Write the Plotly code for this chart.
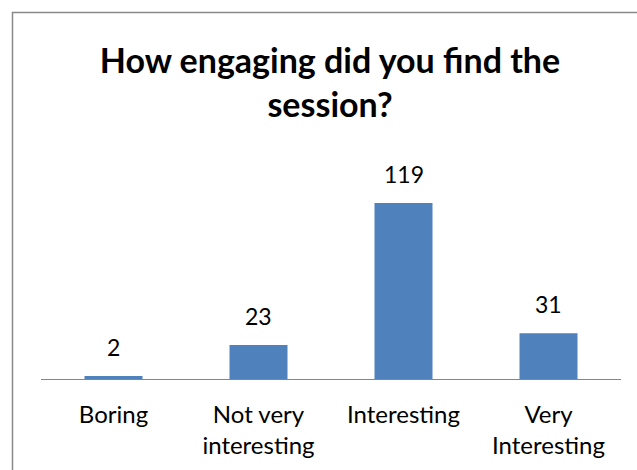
import plotly.graph_objects as go

# Survey responses
categories = ["Boring", "Not very<br>interesting", "Interesting", "Very<br>Interesting"]
counts = [2, 23, 119, 31]

title_text = "How engaging did you find the<br>session?"
bar_color = "#4F81BD"
font_family = "Lato, Carlito, Calibri, sans-serif"

W, H = 637, 470
m_l, m_r, m_t, m_b = 41, 16, 172, 91
plot_w = W - m_l - m_r
plot_h = H - m_t - m_b

fig = go.Figure(
    go.Bar(
        x=categories,
        y=counts,
        marker=dict(color=bar_color, line=dict(width=0)),
        width=0.4,
        hoverinfo="x+y",
    )
)

# value labels above the bars
for c, v in zip(categories, counts):
    fig.add_annotation(
        x=c, y=v, text=str(v), showarrow=False,
        yanchor="bottom", yshift=13,
        font=dict(family=font_family, size=23, color="#000000"),
    )

# outer chart border
px_to_x = lambda p: (p - m_l) / plot_w
px_to_y = lambda p: (H - m_b - p) / plot_h
fig.add_shape(
    type="rect", xref="paper", yref="paper",
    x0=px_to_x(12.5), x1=px_to_x(700), y0=px_to_y(520), y1=px_to_y(12.5),
    line=dict(color="#898989", width=1.5), fillcolor="rgba(0,0,0,0)",
    layer="below",
)

fig.update_layout(
    width=W, height=H,
    margin=dict(l=m_l, r=m_r, t=m_t, b=m_b),
    paper_bgcolor="white", plot_bgcolor="white",
    showlegend=False,
    title=dict(
        text=title_text, x=330 / W, xanchor="center",
        y=1 - 73 / H, yanchor="top", yref="container",
        font=dict(family=font_family, size=34, color="#000000", weight="bold"),
    ),
    xaxis=dict(
        showline=True, linecolor="#868686", linewidth=1,
        ticks="", showgrid=False, zeroline=False,
        tickfont=dict(family=font_family, size=24, color="#000000"),
        ticklabelstandoff=14,
    ),
    yaxis=dict(
        range=[0, 140], visible=False, showgrid=False, zeroline=False,
    ),
)

fig.write_html("out.html")
